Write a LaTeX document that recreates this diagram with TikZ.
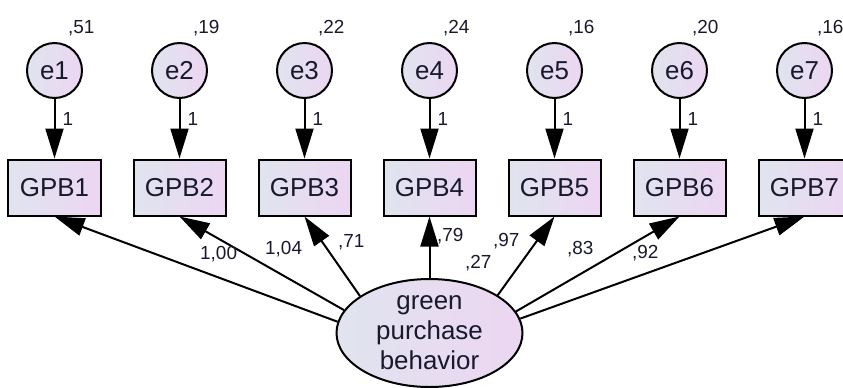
\documentclass[tikz,border=0pt]{standalone}
\usepackage{fontspec}
\setmainfont{Liberation Sans}
\usetikzlibrary{arrows.meta,shapes.geometric}
\definecolor{fillL}{RGB}{224,228,238}
\definecolor{fillR}{RGB}{236,214,242}
\definecolor{txt}{RGB}{25,25,45}
\begin{document}
\begin{tikzpicture}[x=1bp,y=-1bp,
  base/.style={draw=black, line width=2bp, left color=fillL, right color=fillR, inner sep=0pt, text=txt, font=\fontsize{26}{30}\selectfont},
  errc/.style={base, circle, minimum size=55bp},
  obs/.style={base, rectangle, minimum width=92bp, minimum height=56bp},
  latv/.style={base, ellipse, minimum width=186bp, minimum height=108bp, align=center},
  arr/.style={line width=2bp, -{Triangle[length=30bp,width=18bp]}},
  lbl/.style={font=\fontsize{19}{20}\selectfont, text=txt, inner sep=0pt, anchor=base west}]
\useasboundingbox (0,0) rectangle (843,387);
% error circles and boxes
\foreach \i/\x in {1/54.5,2/179.5,3/304.5,4/429.5,5/554.5,6/679.5,7/804.5}{
  \node[errc] (e\i) at (\x,70.5) {e\i};
  \node[obs] (g\i) at (\x,187.5) {GPB\i};
  \draw[arr] (e\i) -- (g\i);
  \node[lbl] (one\i) at (\x+8,125) {1};
}
% variances
\node[lbl] (v1) at (68,33) {,51};
\node[lbl] (v2) at (193,33) {,19};
\node[lbl] (v3) at (318,33) {,22};
\node[lbl] (v4) at (443,33) {,24};
\node[lbl] (v5) at (568,33) {,16};
\node[lbl] (v6) at (692,33) {,20};
\node[lbl] (v7) at (817,33) {,16};
% latent
\node[latv] (lat) at (429.5,333) {green\\purchase\\behavior};
\draw[arr] (lat.173) -- (g1.south);
\draw[arr] (lat.165) -- (g2.south);
\draw[arr] (lat.152) -- (g3.south);
\draw[arr] (lat.north) -- (g4.south);
\draw[arr] (lat.29.6) -- (g5.south);
\draw[arr] (lat.14.6) -- (g6.south);
\draw[arr] (lat.9) -- (g7.south);
% loadings
\node[lbl] (l1) at (200,259) {1,00};
\node[lbl] (l2) at (265,254) {1,04};
\node[lbl] (l3) at (338,247) {,71};
\node[lbl] (l4) at (437,241) {,79};
\node[lbl] (lv) at (465,268) {,27};
\node[lbl] (l5) at (493,246) {,97};
\node[lbl] (l6) at (567,254) {,83};
\node[lbl] (l7) at (632,258) {,92};
\end{tikzpicture}
\end{document}
